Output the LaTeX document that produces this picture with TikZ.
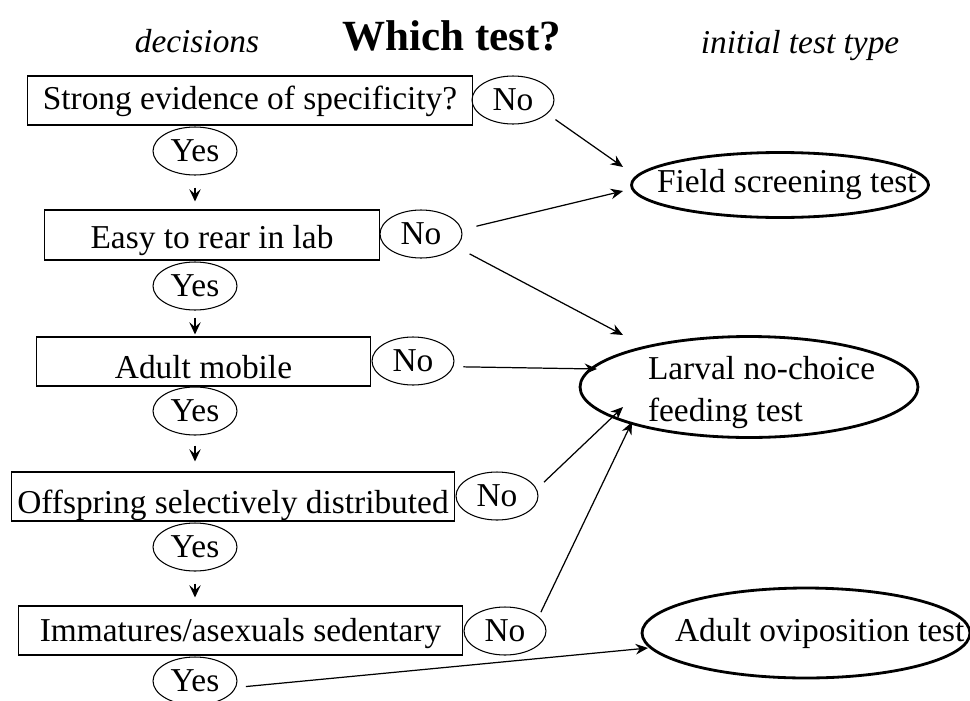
\documentclass[tikz,border=0pt]{standalone}
\usepackage{fontspec}
\setmainfont{Liberation Serif}
\usetikzlibrary{arrows.meta, shapes.geometric}

\tikzset{
  qbox/.style={draw, line width=0.6pt, inner xsep=2pt, inner ysep=0pt, minimum height=0.98cm, text depth=0pt},
  ans/.style={draw, ellipse, line width=0.6pt, inner sep=0pt, minimum width=1.64cm, minimum height=0.96cm},
  result/.style={draw, ellipse, line width=1.6pt, inner sep=0pt},
  noarr/.style={-{Stealth[length=7pt, width=6pt]}, line width=0.7pt, shorten <=#1},
  noarr/.default=0.2cm,
  yesarr/.style n args={2}{-{Stealth[length=7pt, width=6.5pt, inset=2.8pt]}, line width=0.9pt, shorten <=#1, shorten >=#2}
}
\newcommand{\lefttext}[2]{\makebox[0pt][l]{\hspace*{#1}#2}}

\begin{document}
\begin{tikzpicture}[x=0.02cm, y=-0.02cm, font=\fontsize{19}{24}\selectfont]
    \useasboundingbox (0,0) rectangle (970,700);

    % 1. Headings
    \node[font=\fontsize{24.5}{29}\selectfont\bfseries, anchor=base] (title) at (452,50) {Which test?};
    \node[font=\fontsize{19}{24}\selectfont\itshape, anchor=base] (hdec) at (197,52) {decisions};
    \node[font=\fontsize{19}{24}\selectfont\itshape, anchor=base] (htype) at (800,53) {initial test type};

    % 2. Decision boxes
    \node[qbox, minimum width=8.92cm, text height=10.8pt] (q1) at (250,100.5) {Strong evidence of specificity?};
    \node[qbox, minimum width=6.72cm, minimum height=1.0cm, text height=15.9pt] (q2) at (212,235) {Easy to rear in lab};
    \node[qbox, minimum width=6.7cm, text height=19.3pt] (q3) at (203.5,361.5) {Adult mobile};
    \node[qbox, minimum width=8.88cm, text height=19.3pt] (q4) at (233,496.5) {Offspring selectively distributed};
    \node[qbox, minimum width=8.9cm, text height=12.5pt] (q5) at (240.5,630.5) {Immatures/asexuals sedentary};

    % 3. Yes / No answers
    \node[ans, minimum width=1.68cm] (yes1) at (195,151) {Yes};
    \node[ans, minimum width=1.68cm] (yes2) at (195,286) {Yes};
    \node[ans, minimum width=1.68cm] (yes3) at (195,411) {Yes};
    \node[ans, minimum width=1.68cm] (yes4) at (195,547) {Yes};
    \node[ans, minimum width=1.68cm] (yes5) at (195,681) {Yes};

    \node[ans] (no1) at (513,100) {No};
    \node[ans] (no2) at (421,234) {No};
    \node[ans] (no3) at (413,361) {No};
    \node[ans] (no4) at (497,496) {No};
    \node[ans] (no5) at (505,631) {No};

    % 4. Initial test types
    \node[result, minimum width=5.94cm, minimum height=1.3cm] (field) at (780,185)
        {\lefttext{-2.46cm}{Field screening test}};
    \node[result, minimum width=6.76cm, minimum height=2.02cm, text height=14pt, text depth=0pt] (larval) at (749,387)
        {\lefttext{-2.02cm}{\begin{tabular}{@{}l@{}}Larval no-choice\\feeding test\end{tabular}}};
    \node[result, minimum width=6.56cm, minimum height=1.8cm] (adult) at (806,633)
        {\lefttext{-2.62cm}{Adult oviposition test}};

    % 5. Arrow tips in front of the test types
    \coordinate (tF1) at (623,167);
    \coordinate (tF2) at (623,191);
    \coordinate (tL1) at (623,335);
    \coordinate (tL2) at (597,369);
    \coordinate (tL3) at (623,407);
    \coordinate (tL4) at (632,422);
    \coordinate (tA) at (648,648);

    % 6. Yes arrows (only the heads show)
    \draw[yesarr={0.24cm}{0.16cm}] (yes1.south) -- (yes1.south |- q2.north);
    \draw[yesarr={0.14cm}{0.04cm}] (yes2.south) -- (yes2.south |- q3.north);
    \draw[yesarr={0.2cm}{0.2cm}] (yes3.south) -- (yes3.south |- q4.north);
    \draw[yesarr={0.24cm}{0.16cm}] (yes4.south) -- (yes4.south |- q5.north);

    % 7. No arrows
    \draw[noarr] (no1.-22) -- (tF1);
    \draw[noarr=0.3cm] (no2.6) -- (tF2);
    \draw[noarr=0.3cm] (no2.-20) -- (tL1);
    \draw[noarr] (no3.-8) -- (tL2);
    \draw[noarr] (no4.10) -- (tL3);
    \draw[noarr=0.1cm] (no5.23) -- (tL4);
    \draw[noarr] (yes5.-9) -- (tA);

\end{tikzpicture}
\end{document}
